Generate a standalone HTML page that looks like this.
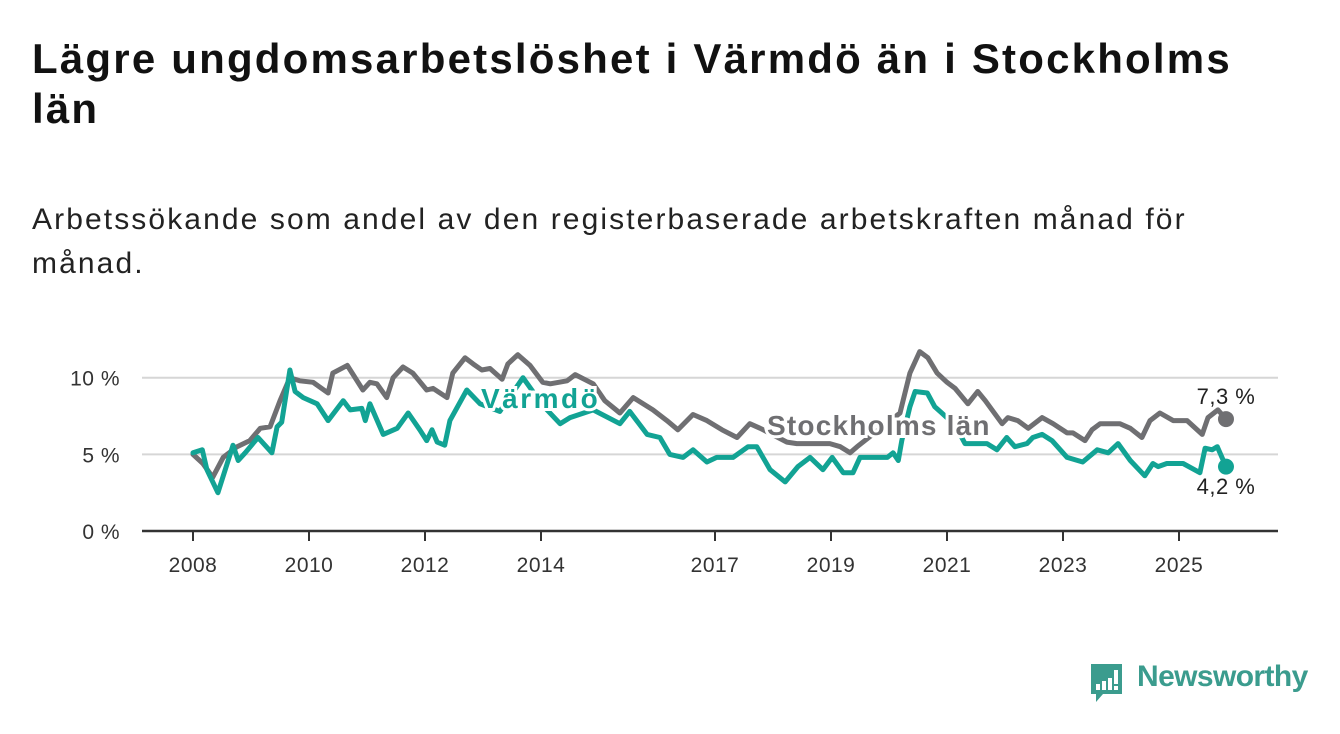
<!DOCTYPE html>
<html><head><meta charset="utf-8">
<style>
html,body{margin:0;padding:0;background:#fff;}
body{width:1340px;height:734px;overflow:hidden;position:relative;font-family:"Liberation Sans","DejaVu Sans",sans-serif;}
#title{position:absolute;left:32px;top:34px;width:1260px;font-size:42px;line-height:50px;font-weight:bold;color:#111;margin:0;letter-spacing:2.2px;}
#subtitle{position:absolute;left:32px;top:198px;width:1240px;font-size:30px;line-height:44px;color:#222;margin:0;letter-spacing:2.1px;}
svg{position:absolute;left:0;top:0;}
</style></head>
<body>
<h1 id="title">Lägre ungdomsarbetslöshet i Värmdö än i Stockholms län</h1>
<p id="subtitle">Arbetssökande som andel av den registerbaserade arbetskraften månad för månad.</p>
<svg id="chart" width="1340" height="734"></svg>
<script>
const yTicks = [0, 5, 10];
const yTickLabels = ["0 %", "5 %", "10 %"];
const xTicks = [2008, 2010, 2012, 2014, 2017, 2019, 2021, 2023, 2025];
const stockholmYears = [2008.0,2008.17,2008.34,2008.52,2008.76,2008.98,2009.16,2009.33,2009.5,2009.67,2009.84,2010.07,2010.33,2010.41,2010.66,2010.93,2011.05,2011.17,2011.34,2011.45,2011.62,2011.79,2012.03,2012.14,2012.38,2012.48,2012.69,2012.83,2012.98,2013.12,2013.33,2013.43,2013.6,2013.81,2014.03,2014.16,2014.45,2014.59,2014.9,2015.1,2015.36,2015.59,2015.93,2016.17,2016.36,2016.62,2016.86,2017.12,2017.38,2017.6,2017.78,2018.24,2018.41,2018.98,2019.16,2019.33,2019.45,2020.19,2020.36,2020.53,2020.67,2020.83,2021.0,2021.14,2021.36,2021.53,2021.66,2021.95,2022.05,2022.22,2022.4,2022.64,2022.83,2023.07,2023.17,2023.38,2023.5,2023.64,2023.98,2024.16,2024.36,2024.5,2024.67,2024.9,2025.14,2025.4,2025.5,2025.67,2025.81];
const stockholmValues = [5.0,4.4,3.5,4.8,5.5,5.9,6.7,6.8,8.5,10.0,9.8,9.7,9.0,10.3,10.8,9.2,9.7,9.6,8.7,10.0,10.7,10.3,9.2,9.3,8.7,10.3,11.3,10.9,10.5,10.6,9.9,10.9,11.5,10.8,9.7,9.6,9.8,10.2,9.6,8.5,7.7,8.7,7.9,7.2,6.6,7.6,7.2,6.6,6.1,7.0,6.7,5.8,5.7,5.7,5.5,5.1,5.5,7.7,10.3,11.7,11.3,10.3,9.7,9.3,8.3,9.1,8.5,7.0,7.4,7.2,6.7,7.4,7.0,6.4,6.4,5.9,6.6,7.0,7.0,6.7,6.1,7.2,7.7,7.2,7.2,6.3,7.4,7.9,7.3];
const varmdoYears = [2008.0,2008.16,2008.24,2008.43,2008.69,2008.78,2008.9,2009.12,2009.36,2009.45,2009.53,2009.67,2009.76,2009.9,2010.14,2010.33,2010.59,2010.71,2010.91,2010.97,2011.05,2011.28,2011.52,2011.71,2011.91,2012.03,2012.12,2012.21,2012.34,2012.43,2012.72,2012.95,2013.29,2013.69,2014.03,2014.33,2014.5,2014.9,2015.36,2015.53,2015.83,2016.05,2016.22,2016.45,2016.62,2016.86,2017.03,2017.31,2017.57,2017.72,2017.95,2018.21,2018.43,2018.64,2018.86,2019.02,2019.21,2019.38,2019.5,2019.67,2019.97,2020.07,2020.16,2020.22,2020.36,2020.45,2020.66,2020.79,2020.91,2021.14,2021.31,2021.69,2021.86,2022.03,2022.17,2022.38,2022.48,2022.64,2022.81,2023.07,2023.34,2023.59,2023.78,2023.95,2024.16,2024.41,2024.55,2024.64,2024.79,2025.07,2025.36,2025.45,2025.57,2025.66,2025.81];
const varmdoValues = [5.1,5.3,4.0,2.5,5.6,4.6,5.1,6.1,5.1,6.8,7.1,10.5,9.1,8.7,8.3,7.2,8.5,7.9,8.0,7.2,8.3,6.3,6.7,7.7,6.6,5.9,6.6,5.8,5.6,7.2,9.2,8.3,7.8,10.0,8.2,7.0,7.4,7.9,7.0,7.8,6.3,6.1,5.0,4.8,5.3,4.5,4.8,4.8,5.5,5.5,4.0,3.2,4.2,4.8,4.0,4.8,3.8,3.8,4.8,4.8,4.8,5.1,4.6,5.9,8.1,9.1,9.0,8.1,7.7,6.9,5.7,5.7,5.3,6.1,5.5,5.7,6.1,6.3,5.9,4.8,4.5,5.3,5.1,5.7,4.6,3.6,4.4,4.2,4.4,4.4,3.8,5.4,5.3,5.5,4.2];

const NS = "http://www.w3.org/2000/svg";
const svg = document.getElementById('chart');
const X0 = 193, PXY = 58, Y0 = 531, PXV = 15.33;
function xs(yr){ return X0 + (yr - 2008) * PXY; }
function ys(v){ return Y0 - v * PXV; }
function el(tag, attrs, parent){
  const e = document.createElementNS(NS, tag);
  for (const k in attrs) e.setAttribute(k, attrs[k]);
  (parent || svg).appendChild(e);
  return e;
}
yTicks.forEach((t, i) => {
  if (t > 0) {
    const g = el('line', {x1:142, x2:1278, y1:ys(t), y2:ys(t), stroke:'#d6d6d6', 'stroke-width':2});
    
    
  }
  const lb = el('text', {x:120, y:ys(t)+8, 'text-anchor':'end', 'font-size':21, fill:'#333', 'font-family':'Liberation Sans, sans-serif', 'letter-spacing':0.5});
  lb.textContent = yTickLabels[i];
  
  
});
const ax = el('line', {x1:142, x2:1278, y1:Y0, y2:Y0, stroke:'#333', 'stroke-width':2.5});


xTicks.forEach(t => {
  const tk = el('line', {x1:xs(t), x2:xs(t), y1:Y0, y2:Y0+10, stroke:'#333', 'stroke-width':2});
  
  
  const lb = el('text', {x:xs(t), y:572, 'text-anchor':'middle', 'font-size':21, fill:'#333', 'font-family':'Liberation Sans, sans-serif', 'letter-spacing':0.5});
  lb.textContent = String(t);
  
  
});
function line(years, vals, color, name){
  const d = years.map((y, i) => (i ? 'L' : 'M') + xs(y).toFixed(1) + ',' + ys(vals[i]).toFixed(1)).join('');
  const p = el('path', {d:d, fill:'none', stroke:color, 'stroke-width':5, 'stroke-linejoin':'round', 'stroke-linecap':'round'});
  
  
  const n = years.length - 1;
  const c = el('circle', {cx:xs(years[n]), cy:ys(vals[n]), r:8, fill:color});
  
  
}
line(stockholmYears, stockholmValues, '#6f6f72', 'stockholm');
line(varmdoYears, varmdoValues, '#12a394', 'varmdo');
function label(x, y, txt, color, name, anchor, bold, size, ls){
  const t = el('text', {x:x, y:y, 'text-anchor':anchor, 'font-size':size, 'font-weight':bold?'bold':'normal', fill:color, stroke:'#fff', 'stroke-width':bold?6:0, 'paint-order':'stroke', 'font-family':'Liberation Sans, sans-serif', 'letter-spacing':ls});
  t.textContent = txt;
  
  
}
label(481, 408, 'Värmdö', '#12a394', 'varmdo-series-label', 'start', true, 28, 2.5);
label(767, 435, 'Stockholms län', '#6f6f72', 'stockholm-series-label', 'start', true, 28, 1.2);
const n1 = stockholmYears.length - 1, n2 = varmdoYears.length - 1;
label(xs(stockholmYears[n1]), 404, '7,3 %', '#222', 'stockholm-end-value', 'middle', false, 22, 0.5);
label(xs(varmdoYears[n2]), 494, '4,2 %', '#222', 'varmdo-end-value', 'middle', false, 22, 0.5);
</script>
<div style="position:absolute;left:1089px;top:662px;width:220px;height:44px;">
  <svg width="40" height="44" style="position:absolute;left:0;top:0;">
    <path d="M2,2 H33 V32 H14 L7,40 V32 H2 Z" fill="#3b9c8e"/>
    <rect x="7" y="22" width="4" height="6" fill="#fff"/>
    <rect x="13" y="19" width="4" height="9" fill="#fff"/>
    <rect x="19" y="16" width="4" height="12" fill="#fff"/>
    <rect x="25" y="8" width="4" height="14" fill="#fff"/>
    <rect x="25" y="24" width="4" height="4" fill="#fff"/>
  </svg>
  <span style="position:absolute;left:48px;top:-2px;font-size:30px;font-weight:bold;color:#3b9c8e;font-family:'Liberation Sans',sans-serif;letter-spacing:-0.6px;">Newsworthy</span>
</div>
</body></html>
